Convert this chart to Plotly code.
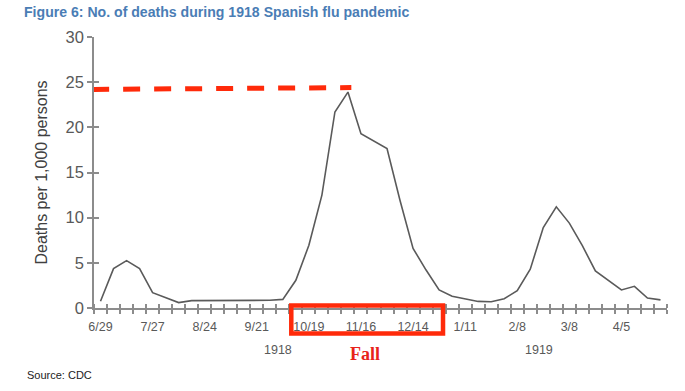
import pandas as pd
import plotly.graph_objects as go

# ---- data ----
START_DATE = "1918-06-29"
deaths = [0.74, 4.36, 5.25, 4.36, 1.7, 1.15, 0.6, 0.82, 0.82, 0.82, 0.82, 0.82, 0.82, 0.85,
          0.95, 3.07, 6.94, 12.5, 21.7, 23.9, 19.3, 18.46, 17.65, 11.9, 6.6, 4.2, 2.0, 1.3,
          1.0, 0.73, 0.7, 1.03, 1.92, 4.3, 8.9, 11.2, 9.4, 6.9, 4.1, 3.0, 2.0, 2.4, 1.1, 0.9]
weeks = pd.date_range(START_DATE, periods=len(deaths), freq="7D")
tick_labels = ["6/29", "7/27", "8/24", "9/21", "10/19", "11/16", "12/14", "1/11", "2/8", "3/8", "4/5"]
tick_dates = weeks[::4][:len(tick_labels)]
y_ticks = [0, 5, 10, 15, 20, 25, 30]
year_labels = ["1918", "1919"]
year_weeks = [13.6, 33.7]
peak_level = [24.2, 24.4]
peak_end_week = 19.26
fall_box_weeks = [14.65, 26.3]

WEEK = pd.Timedelta(days=7)
first = weeks[0]
def wk(w):
    return first + w * WEEK

x_lo = first - WEEK / 2
x_hi = weeks[-1] + WEEK / 2

H_PLOT = 271.0
def py(px):  # pixel row -> paper y (plot area fraction)
    return (307.7 - px) / H_PLOT

AX = "#8c8c8c"
TXT = "#595959"
RED = "#FF2A0A"
FONT = "Liberation Sans, Arial, sans-serif"

fig = go.Figure()
fig.add_trace(go.Scatter(x=weeks, y=deaths, mode="lines",
                         line=dict(color="#5a5a5a", width=1.6), hoverinfo="skip",
                         showlegend=False))
# helper invisible trace for the overlay axes (inside halves of cross ticks)
fig.add_trace(go.Scatter(x=[weeks[0]], y=[0], xaxis="x2", yaxis="y2", mode="markers",
                         marker=dict(opacity=0), hoverinfo="skip", showlegend=False))

fig.update_layout(
    width=685, height=391,
    margin=dict(l=94, r=17.5, t=36.7, b=83.3, autoexpand=False),
    paper_bgcolor="white", plot_bgcolor="white",
    font=dict(family=FONT, color=TXT),
    title=dict(text="<b>Figure 6: No. of deaths during 1918 Spanish flu pandemic</b>",
               x=24 / 685, xanchor="left", y=1 - 12 / 391, yanchor="middle",
               font=dict(size=14.1, color="#4A7DB5", family=FONT)),
    xaxis=dict(type="date", range=[x_lo, x_hi], showgrid=False, zeroline=False,
               showline=True, linecolor=AX, linewidth=1.5,
               tickmode="array", tickvals=tick_dates, ticktext=tick_labels,
               ticks="", ticklabelstandoff=6,
               tickfont=dict(size=12.5, color=TXT),
               minor=dict(ticks="outside", tickmode="linear", tick0=x_lo,
                          dtick=7 * 86400000, ticklen=4, tickcolor=AX, tickwidth=1.5)),
    xaxis2=dict(type="date", overlaying="x", matches="x", anchor="y", showgrid=False,
                zeroline=False, showline=False, showticklabels=False, ticks="",
                minor=dict(ticks="inside", tickmode="linear", tick0=x_lo,
                           dtick=7 * 86400000, ticklen=4, tickcolor=AX, tickwidth=1.5)),
    yaxis=dict(range=[0, 30], showgrid=False, zeroline=False, showline=True,
               linecolor=AX, linewidth=1.5, tickvals=y_ticks, ticks="outside",
               ticklen=5, tickcolor=AX, tickwidth=1.5,
               tickfont=dict(size=16.5, color=TXT),
               title=dict(text="Deaths per 1,000 persons", standoff=14,
                          font=dict(size=16, color="#404040"))),
    yaxis2=dict(range=[0, 30], overlaying="y", matches="y", anchor="x", side="left",
                showgrid=False, zeroline=False, showline=False, showticklabels=False,
                tickvals=y_ticks, ticks="inside", ticklen=5, tickcolor=AX, tickwidth=1.5),
)

# red dashed peak level line
fig.add_shape(type="line", xref="x", yref="y", x0=x_lo - pd.Timedelta(days=1),
              x1=wk(peak_end_week), y0=peak_level[0], y1=peak_level[1],
              line=dict(color=RED, width=5, dash="17px,14px"), layer="above")
# red box around fall
fig.add_shape(type="rect", xref="x", yref="paper", x0=wk(fall_box_weeks[0]),
              x1=wk(fall_box_weeks[1]), y0=py(333.3), y1=py(305.3),
              line=dict(color=RED, width=4.5), fillcolor="rgba(0,0,0,0)", layer="above")

for lab, w in zip(year_labels, year_weeks):
    fig.add_annotation(x=wk(w), y=py(350), xref="x", yref="paper", text=lab,
                       yanchor="middle", showarrow=False, font=dict(size=12.5, color=TXT))
fig.add_annotation(x=wk(20.3), y=py(354), xref="x", yref="paper", text="<b>Fall</b>",
                   yanchor="middle", showarrow=False,
                   font=dict(size=18, color="#E8231A", family="Liberation Serif, DejaVu Serif, serif"))
fig.add_annotation(x=-70 / 578.5, y=py(375), xref="paper", yref="paper",
                   xanchor="left", yanchor="middle", text="Source: CDC", showarrow=False,
                   font=dict(size=11, color="#222222"))

fig.write_html("out.html", config={"displayModeBar": False},
               post_script="document.body.style.margin='0';")
